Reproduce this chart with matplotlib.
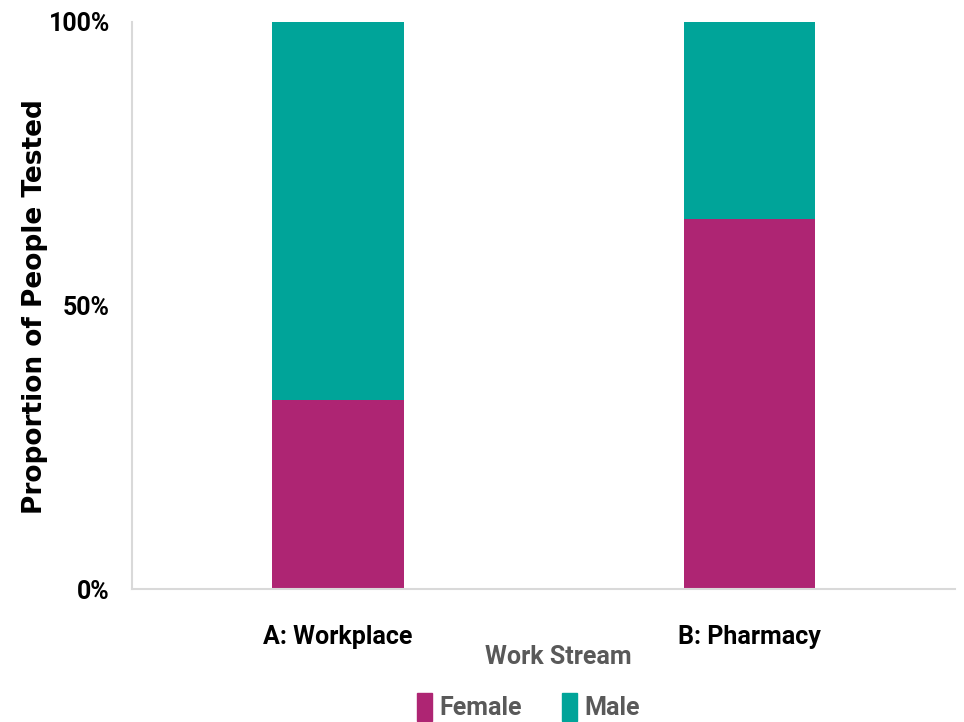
"""Stacked 100% bar chart: share of people tested by sex, per work stream."""

import matplotlib.pyplot as plt
import numpy as np
from matplotlib.patches import Patch
from matplotlib.ticker import FuncFormatter

streams = ["A: Workplace", "B: Pharmacy"]
female = [33.3, 65.2]
male = [66.7, 34.8]

C_FEMALE, C_MALE = "#AE2573", "#00A499"
NARROW = ["Roboto", "DejaVu Sans"]

fig = plt.figure(figsize=(9.64, 7.22), dpi=100)
ax = fig.add_axes([0.137, 0.184, 0.854, 0.786])

x = np.arange(len(streams))
ax.bar(x, female, width=0.32, color=C_FEMALE, label="Female")
ax.bar(x, male, width=0.32, bottom=female, color=C_MALE, label="Male")

ax.set_xlim(-0.5, 1.5)
ax.set_ylim(0, 100)
ax.set_yticks([0, 50, 100])
ax.yaxis.set_major_formatter(FuncFormatter(lambda v, _: f"{v:.0f}%"))
ax.set_xticks(x, streams)

for s in ("top", "right"):
    ax.spines[s].set_visible(False)
for s in ("left", "bottom"):
    ax.spines[s].set_color("#d9d9d9")
    ax.spines[s].set_linewidth(1.5)
ax.tick_params(length=0)
ax.tick_params(axis="y", pad=16)
ax.tick_params(axis="x", pad=26)
for lab in ax.get_yticklabels() + ax.get_xticklabels():
    lab.set_fontfamily(NARROW)
    lab.set_fontweight("bold")
    lab.set_fontsize(18)

fig.text(35 / 964, 1 - 307 / 722, "Proportion of People Tested", rotation=90,
         ha="center", va="center", fontsize=19, fontweight="bold", family="DejaVu Sans")

fig.text(558 / 964, 1 - 657 / 722, "Work Stream", ha="center", va="center",
         color="#595959", fontsize=18, fontweight="bold", family=NARROW)

handles = [Patch(color=C_FEMALE, label="Female"), Patch(color=C_MALE, label="Male")]
leg = fig.legend(handles=handles, loc="center", bbox_to_anchor=(528 / 964, 1 - 707 / 722),
                 ncol=2, frameon=False, handlelength=0.6, handleheight=1.3,
                 handletextpad=0.3, columnspacing=1.6,
                 prop={"family": NARROW, "weight": "bold", "size": 18})
for t in leg.get_texts():
    t.set_color("#595959")

fig.savefig("out.png", dpi=100)
